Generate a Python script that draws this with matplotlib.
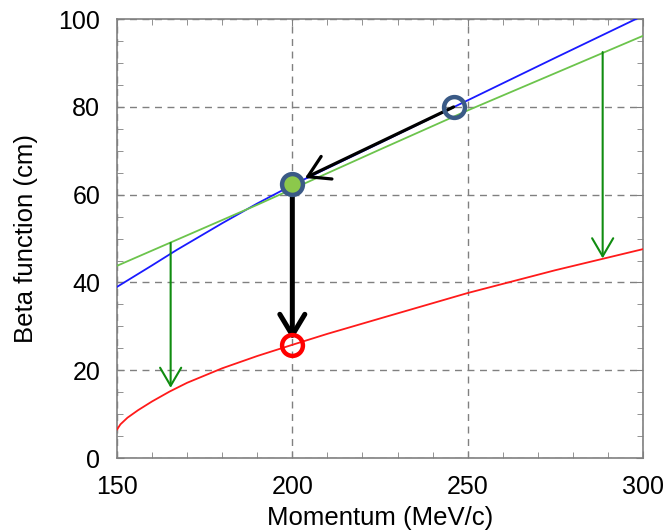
import matplotlib
matplotlib.use('Agg')
import matplotlib.pyplot as plt
from matplotlib.ticker import MultipleLocator

plt.rcParams['font.family'] = ['Liberation Sans', 'DejaVu Sans']

# values
blue_p = [150, 160, 167, 180, 190, 200, 225, 250, 275, 300]
blue_beta = [39.0, 43.9, 47.4, 53.5, 58.0, 62.2, 71.8, 81.5, 91.2, 100.8]

green_p = [150, 190, 225, 250, 300]
green_beta = [43.8, 57.7, 70.3, 79.2, 96.2]

red_p = [150, 151, 153, 156, 160, 165, 170, 180, 190, 200, 210, 225, 250, 275, 300]
red_beta = [6.5, 7.7, 9.2, 10.9, 12.9, 15.15, 17.15, 20.45, 23.25, 25.8, 28.3, 31.8, 37.6, 42.8, 47.6]

start_pt = (246, 80.0)
match_pt = (200, 62.4)
final_pt = (200, 25.8)

black_arrows = [((246, 80.0), (203.6, 63.8), 2.3), ((200, 59.5), (200, 26.9), 3.6)]
green_arrows = [((165.3, 49.0), (165.3, 16.0)), ((288.5, 92.5), (288.5, 45.5))]

fig = plt.figure(figsize=(6.67, 5.32), dpi=100)
ax = fig.add_axes([0.1754, 0.139, 0.7886, 0.825])

ax.plot(blue_p, blue_beta, color='#1a1aff', lw=1.3, zorder=3)
ax.plot(green_p, green_beta, color='#6cc44c', lw=1.3, zorder=3)
ax.plot(red_p, red_beta, color='#ff1a1a', lw=1.3, zorder=3)

for tail, tip, lw in black_arrows:
    ax.annotate('', xy=tip, xytext=tail,
                arrowprops=dict(arrowstyle='->,head_length=0.75,head_width=0.45',
                                color='black', lw=lw, mutation_scale=20,
                                shrinkA=0, shrinkB=0), zorder=4)
for tail, tip in green_arrows:
    ax.annotate('', xy=tip, xytext=tail,
                arrowprops=dict(arrowstyle='->,head_length=0.65,head_width=0.38',
                                color='#108c10', lw=1.5, mutation_scale=20,
                                shrinkA=0, shrinkB=0), zorder=4)

ax.plot(*start_pt, 'o', ms=15, mfc='none', mec='#3a5a86', mew=3.2, zorder=5)
ax.plot(*match_pt, 'o', ms=15, mfc='#8cc84b', mec='#3a5a86', mew=3.2, zorder=5)
ax.plot(*final_pt, 'o', ms=15, mfc='none', mec='#ff0000', mew=3.2, zorder=5)

ax.set_xlim(150, 300)
ax.set_ylim(0, 100)
ax.xaxis.set_major_locator(MultipleLocator(50))
ax.xaxis.set_minor_locator(MultipleLocator(10))
ax.yaxis.set_major_locator(MultipleLocator(20))
ax.yaxis.set_minor_locator(MultipleLocator(5))
ax.grid(True, which='major', color='#808080', ls=(0, (5, 4)), lw=1.0)
ax.tick_params(which='both', direction='in', top=True, right=True, color='#808080',
               labelsize=18, pad=12)
ax.tick_params(which='major', length=5)
ax.tick_params(which='minor', length=4)
for s in ax.spines.values():
    s.set_color('#808080')
    s.set_linewidth(1.2)

ax.set_xlabel('Momentum (MeV/c)', fontsize=18.5, labelpad=5)
ax.set_ylabel('Beta function (cm)', fontsize=18.5, labelpad=15)

fig.savefig('out.png', dpi=100)
